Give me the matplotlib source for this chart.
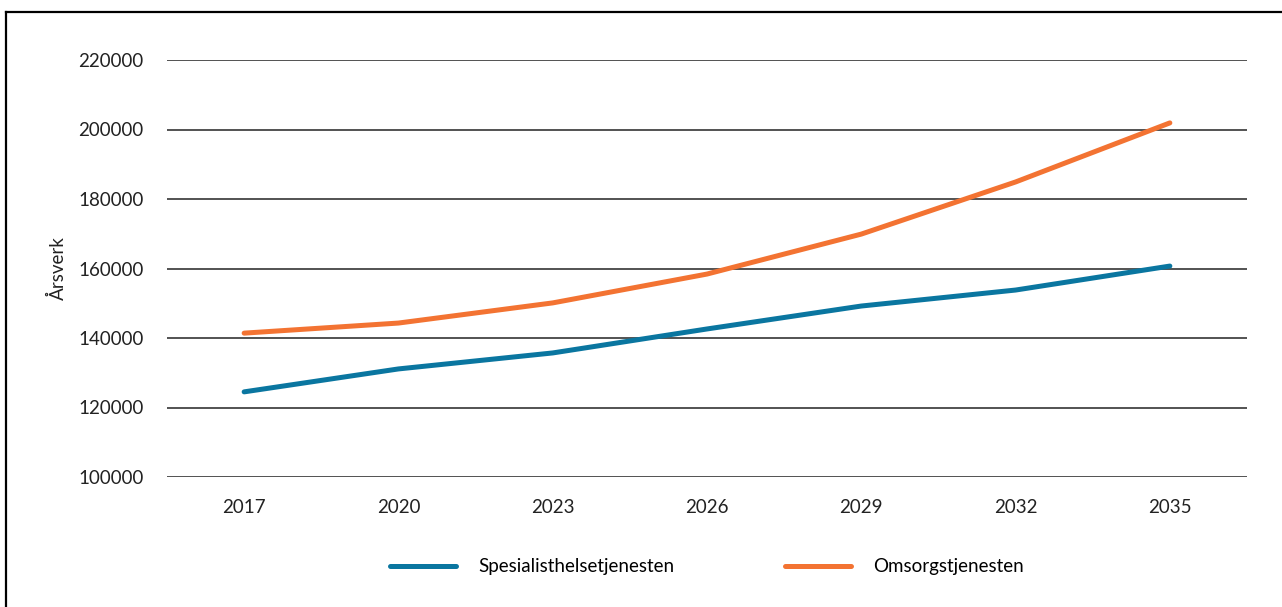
import matplotlib.pyplot as plt
from matplotlib.lines import Line2D

plt.rcParams['font.family'] = ['Lato', 'DejaVu Sans']

# Data
years = ['2017', '2020', '2023', '2026', '2029', '2032', '2035']
spesialist = [124500, 131100, 135700, 142600, 149200, 153800, 160700]
omsorg = [141400, 144300, 150100, 158400, 169900, 184900, 201900]

fig = plt.figure(figsize=(12.82, 6.07), dpi=100)
ax = fig.add_axes([167 / 1282, 1 - 477 / 607, (1247 - 167) / 1282, (477 - 60) / 607])

x = range(len(years))
ax.plot(x, spesialist, color='#0a76a0', lw=3.6, solid_capstyle='round',
        label='Spesialisthelsetjenesten', zorder=3)
ax.plot(x, omsorg, color='#f37332', lw=3.6, solid_capstyle='round',
        label='Omsorgstjenesten', zorder=3)

ax.set_xlim(-0.5, len(years) - 0.5)
ax.set_ylim(100000, 220000)
ax.set_yticks(range(100000, 220001, 20000))
ax.set_xticks(list(x))
ax.set_xticklabels(years)
ax.grid(axis='y', color='#444444', lw=1.3)
ax.set_axisbelow(True)
for s in ax.spines.values():
    s.set_visible(False)
ax.tick_params(length=0, labelsize=13.5, colors='#222222', pad=17)
ax.tick_params(axis='x', pad=16)
ax.set_ylabel('Årsverk', fontsize=13.5, color='#222222', labelpad=8)

ax.legend(loc='center', bbox_to_anchor=(0.5, -0.215), ncol=2, frameon=False,
          fontsize=13.5, handlelength=3.5, handletextpad=1.2, columnspacing=5.9)

# frame around the figure (top and left visible)
fig.add_artist(Line2D([5.5 / 1282, 1], [1 - 11.5 / 607] * 2, color='black', lw=1.6))
fig.add_artist(Line2D([5.5 / 1282] * 2, [0, 1 - 11.5 / 607], color='black', lw=1.6))

fig.savefig('out.png', dpi=100)
